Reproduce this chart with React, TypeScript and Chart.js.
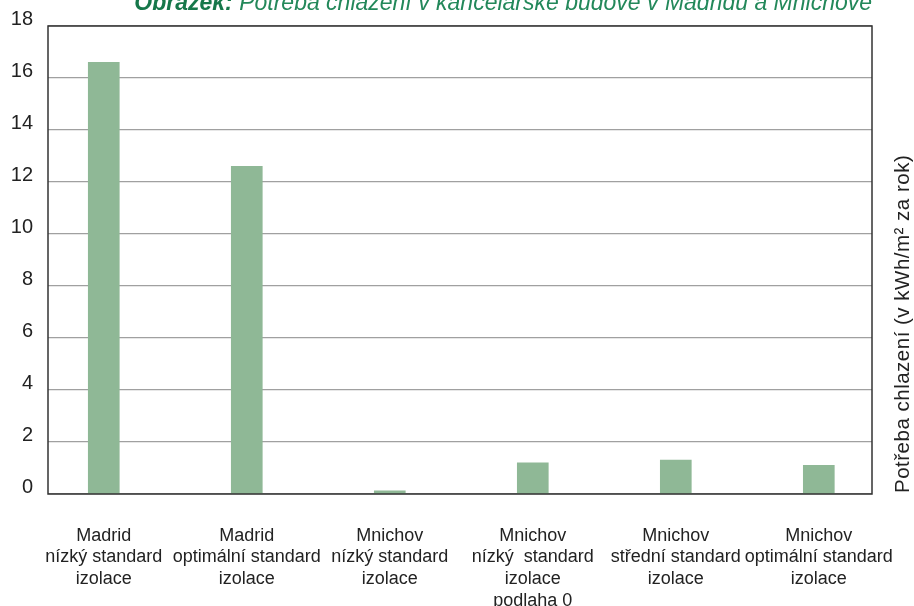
import React, { useEffect, useRef } from "react";
import { Chart, registerables } from "chart.js";

Chart.register(...registerables);

const categories: string[][] = [
  ["Madrid", "nízký standard", "izolace"],
  ["Madrid", "optimální standard", "izolace"],
  ["Mnichov", "nízký standard", "izolace"],
  ["Mnichov", "nízký  standard", "izolace", "podlaha 0"],
  ["Mnichov", "střední standard", "izolace"],
  ["Mnichov", "optimální standard", "izolace"],
];
const coolingDemand: number[] = [16.6, 12.6, 0.12, 1.2, 1.3, 1.1];
const yMin = 0;
const yMax = 18;
const yStep = 2;
const titleBold = "Obrázek:";
const titleRest = " Potřeba chlazení v kancelářské budově v Madridu a Mnichově";
const axisTitle = "Potřeba chlazení (v kWh/m² za rok)";

const FONT = '"Liberation Sans", Arial, Helvetica, sans-serif';

const overlayPlugin = {
  id: "overlay",
  afterDraw(chart: any) {
    const { ctx, chartArea } = chart;
    const { left, right, top, bottom } = chartArea;
    ctx.save();
    // plot box
    ctx.strokeStyle = "#333333";
    ctx.lineWidth = 1.5;
    ctx.strokeRect(left, top, right - left, bottom - top);

    // title
    ctx.textBaseline = "alphabetic";
    ctx.textAlign = "left";
    ctx.font = `italic 23px ${FONT}`;
    const wRest = ctx.measureText(titleRest).width;
    ctx.font = `italic bold 23px ${FONT}`;
    const wBold = ctx.measureText(titleBold).width;
    const x0 = right - wRest - wBold;
    ctx.fillStyle = "#16774a";
    ctx.fillText(titleBold, x0, 10);
    ctx.font = `italic 23px ${FONT}`;
    ctx.fillStyle = "#23885a";
    ctx.fillText(titleRest, x0 + wBold, 10);

    // right axis title
    ctx.translate(903, bottom - 1);
    ctx.rotate(-Math.PI / 2);
    ctx.font = `20.5px ${FONT}`;
    try {
      (ctx as any).letterSpacing = "0.5px";
    } catch (e) {}
    ctx.fillStyle = "#222222";
    ctx.textAlign = "left";
    ctx.textBaseline = "middle";
    ctx.fillText(axisTitle, 0, 0);
    ctx.restore();
  },
};

export default function App() {
  const canvasRef = useRef<HTMLCanvasElement | null>(null);

  useEffect(() => {
    if (!canvasRef.current) return;
    const chart = new Chart(canvasRef.current, {
      type: "bar",
      data: {
        datasets: [
          {
            data: coolingDemand.map((v, i) => ({ x: i, y: v })),
            backgroundColor: "#8fb896",
            borderWidth: 0,
            barThickness: 31,
          },
        ],
      },
      options: {
        animation: false,
        responsive: false,
        layout: { padding: { top: 26, right: 42, left: 0, bottom: 0 } },
        plugins: {
          legend: { display: false },
          tooltip: { enabled: false },
          title: { display: false },
        },
        scales: {
          x: {
            type: "linear",
            offset: false,
            min: -0.39,
            max: 5.372,
            grid: { display: false, drawTicks: false, offset: false },
            border: { display: false },
            afterBuildTicks: (axis: any) => {
              axis.ticks = categories.map((_, i) => ({ value: i }));
            },
            afterFit: (axis: any) => {
              axis.height = 112;
              axis.paddingLeft = 0;
              axis.paddingRight = 0;
            },
            ticks: {
              autoSkip: false,
              maxRotation: 0,
              minRotation: 0,
              padding: 31,
              color: "#222222",
              font: { family: FONT, size: 18, lineHeight: 1.2 },
              callback: (value: any) => categories[value as number] ?? "",
            },
          },
          y: {
            min: yMin,
            max: yMax,
            grid: { color: "#a0a0a0", lineWidth: 1.2, drawTicks: false },
            border: { display: false },
            afterFit: (axis: any) => {
              axis.width = 48;
              axis.paddingTop = 0;
              axis.paddingBottom = 0;
            },
            ticks: {
              stepSize: yStep,
              padding: 15,
              labelOffset: -7,
              color: "#222222",
              font: { family: FONT, size: 20 },
            },
          },
        },
      },
      plugins: [overlayPlugin],
    } as any);
    return () => chart.destroy();
  }, []);

  return (
    <div style={{ position: "fixed", left: 0, top: 0, width: 914, height: 606, background: "#ffffff" }}>
      <canvas ref={canvasRef} width={914} height={606} style={{ display: "block" }} />
    </div>
  );
}
